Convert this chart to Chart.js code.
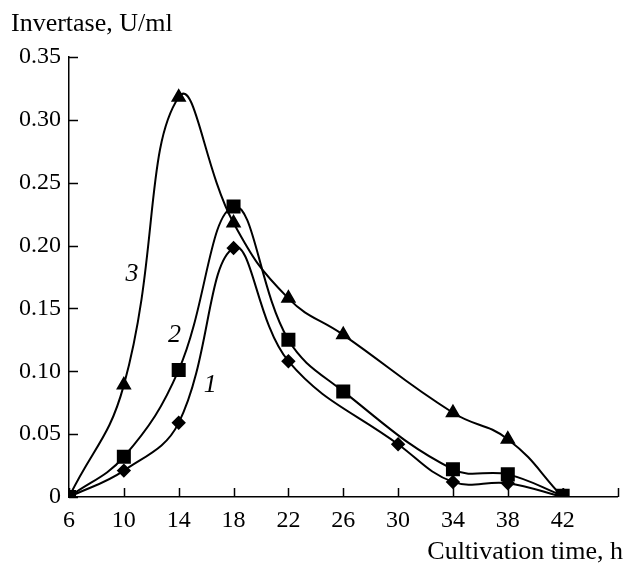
<!DOCTYPE html>
<html>
<head>
<meta charset="utf-8">
<script src="https://cdn.jsdelivr.net/npm/chart.js@4.4.1/dist/chart.umd.min.js"></script>
<style>
  html, body { margin: 0; padding: 0; background: #fff; }
  #wrap { position: relative; width: 628px; height: 566px; }
</style>
</head>
<body>
<div id="wrap"><canvas id="chart" width="628" height="566"></canvas></div>
<script>
// cultivation time, h
const hours1 = [6, 10, 14, 18, 22, 30, 34, 38, 42];
const invertase1 = [0, 0.021, 0.059, 0.198, 0.108, 0.042, 0.012, 0.011, 0];

const hours2 = [6, 10, 14, 18, 22, 26, 34, 38, 42];
const invertase2 = [0, 0.032, 0.101, 0.231, 0.125, 0.084, 0.022, 0.018, 0.001];

const hours3 = [6, 10, 14, 18, 22, 26, 34, 38, 42];
const invertase3 = [0, 0.089, 0.318, 0.218, 0.158, 0.129, 0.067, 0.046, 0];

const xTicks = [6, 10, 14, 18, 22, 26, 30, 34, 38, 42, 46];
const yTicks = [0, 0.05, 0.10, 0.15, 0.20, 0.25, 0.30, 0.35];

// curve numbers, placed in data coordinates
const curveLabels = [
  { text: '1', x: 16.3, y: 0.089 },
  { text: '2', x: 13.7, y: 0.129 },
  { text: '3', x: 10.6, y: 0.177 }
];

const SERIF = '"Liberation Serif", "DejaVu Serif", serif';

const toPoints = (xs, ys) => xs.map((x, i) => ({ x: x, y: ys[i] }));

// axis titles, inward tick marks and curve numbers
const decorations = {
  id: 'decorations',
  afterDraw(chart) {
    const ctx = chart.ctx;
    const xs = chart.scales.x, ys = chart.scales.y;
    const area = chart.chartArea;
    ctx.save();
    ctx.strokeStyle = '#000';
    ctx.lineWidth = 1.5;
    ctx.beginPath();
    xTicks.forEach(v => {
      const px = Math.round(xs.getPixelForValue(v)) + 0.5;
      ctx.moveTo(px, area.bottom);
      ctx.lineTo(px, area.bottom - 9);
    });
    yTicks.forEach(v => {
      const py = Math.round(ys.getPixelForValue(v)) + 0.5;
      ctx.moveTo(area.left, py);
      ctx.lineTo(area.left + 9, py);
    });
    ctx.stroke();

    ctx.fillStyle = '#000';
    ctx.font = '26px ' + SERIF;
    ctx.textBaseline = 'alphabetic';
    ctx.textAlign = 'left';
    ctx.fillText('Invertase, U/ml', 11, 31);
    ctx.textAlign = 'right';
    ctx.fillText('Cultivation time, h', 623, 559);

    ctx.font = 'italic 26px ' + SERIF;
    ctx.textAlign = 'center';
    ctx.textBaseline = 'middle';
    curveLabels.forEach(l => {
      ctx.fillText(l.text, xs.getPixelForValue(l.x), ys.getPixelForValue(l.y));
    });
    ctx.restore();
  }
};

const lineStyle = {
  borderColor: '#000',
  backgroundColor: '#000',
  pointBackgroundColor: '#000',
  pointBorderColor: '#000',
  borderWidth: 2,
  fill: false
};

new Chart(document.getElementById('chart'), {
  type: 'line',
  data: {
    datasets: [
      Object.assign({ label: '1', data: toPoints(hours1, invertase1), pointStyle: 'rectRot', pointRadius: 5.8, tension: 0.4 }, lineStyle),
      Object.assign({ label: '2', data: toPoints(hours2, invertase2), pointStyle: 'rect', pointRadius: 8.5, tension: 0.4 }, lineStyle),
      Object.assign({ label: '3', data: toPoints(hours3, invertase3), pointStyle: 'triangle', pointRadius: 7, tension: 0.45 }, lineStyle)
    ]
  },
  options: {
    responsive: false,
    animation: false,
    layout: { padding: { top: 57, right: 7, left: 0, bottom: 0 } },
    plugins: {
      legend: { display: false },
      tooltip: { enabled: false }
    },
    scales: {
      x: {
        type: 'linear',
        min: 6,
        max: 46,
        afterBuildTicks: s => { s.ticks = xTicks.map(v => ({ value: v })); },
        afterFit: s => { s.height = 69; },
        grid: { display: false, drawTicks: false },
        border: { display: true, color: '#000', width: 1.5 },
        ticks: {
          color: '#000',
          font: { family: SERIF, size: 24 },
          padding: 9,
          maxRotation: 0,
          autoSkip: false,
          callback: v => (v === 46 ? '' : String(v))
        }
      },
      y: {
        min: 0,
        max: 0.35,
        afterBuildTicks: s => { s.ticks = yTicks.map(v => ({ value: v })); },
        afterFit: s => { s.width = 69; },
        grid: { display: false, drawTicks: false },
        border: { display: true, color: '#000', width: 1.5 },
        ticks: {
          color: '#000',
          font: { family: SERIF, size: 24 },
          padding: 8,
          callback: v => (v === 0 ? '0' : v.toFixed(2))
        }
      }
    }
  },
  plugins: [decorations]
});
</script>
</body>
</html>
